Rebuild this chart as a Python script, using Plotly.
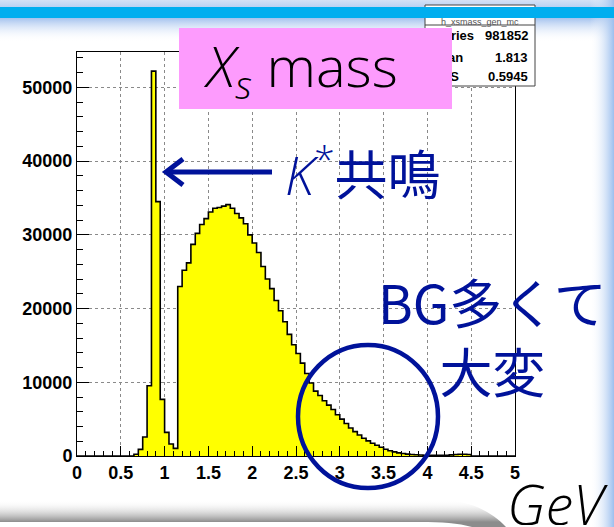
import base64
import plotly.graph_objects as go

# ---------------- data ----------------
BIN_LOW = 0.0
BIN_WIDTH = 0.05
COUNTS = [
    0, 0, 0, 0, 0, 0, 0, 0, 0, 0,            # 0.00 - 0.45
    0, 0, 0, 230, 900, 2570, 9530, 52200, 34500, 7680,   # 0.50 - 0.95
    3200, 1630, 1040, 23000, 25200, 26200, 28700, 30200, 31400, 32200,  # 1.00 - 1.45
    33100, 33600, 33700, 33900, 34100, 33600, 32900, 32300, 31500, 30000,  # 1.50 - 1.95
    28900, 27600, 25700, 24000, 22700, 21100, 19700, 18200, 16500, 15100,  # 2.00 - 2.45
    13900, 12600, 11200, 9900, 8800, 8200, 7500, 6900, 6300, 5600,   # 2.50 - 2.95
    5000, 4400, 3800, 3300, 2850, 2400, 2050, 1720, 1450, 1180,      # 3.00 - 3.45
    920, 720, 560, 420, 330, 250, 200, 160, 130, 110,                # 3.50 - 3.95
    90, 80, 80, 90, 110, 150, 200, 230, 230, 200,                    # 4.00 - 4.45
    0, 0, 0, 0, 0, 0, 0, 0, 0, 0,                                    # 4.50 - 4.95
]
STAT_NAMES = ["Entries", "Mean", "RMS"]
STAT_VALUES = ["981852", "1.813", "0.5945"]
HIST_NAME = "h_xsmass_gen_mc"
X_RANGE = [0, 5]
Y_RANGE = [0, 54800]

# ---------------- layout helpers (pixel -> paper) ----------------
W, H = 614, 527
L, R, T, B = 77, 99, 52, 71
PW, PH = W - L - R, H - T - B


def px(x):
    return (x - L) / PW


def py(y):
    return (H - B - y) / PH


NAVY = "#00129a"
LIGHT_FONT = dict(family="Open Sans", color="black", weight=300)

edges = [BIN_LOW + i * BIN_WIDTH for i in range(len(COUNTS) + 1)]
xs = edges
ys = COUNTS + [COUNTS[-1]]

fig = go.Figure()
fig.add_trace(go.Scatter(
    x=xs, y=ys, mode="lines", line=dict(shape="hv", color="black", width=1.6),
    fill="tozeroy", fillcolor="#ffff00", hoverinfo="skip", showlegend=False,
))

axis_common = dict(
    showline=True, linecolor="black", linewidth=1, mirror=True,
    ticks="inside", tickcolor="black",
    showgrid=True, gridcolor="#8a8a8a", griddash="dot", gridwidth=1,
    zeroline=False,
    tickfont=dict(family="Liberation Sans", size=18, color="black", weight="bold"),
)

fig.update_xaxes(range=X_RANGE, dtick=0.5, tick0=0, ticklen=10,
                 minor=dict(dtick=0.1, ticklen=5, ticks="inside", tickcolor="black", showgrid=False),
                 **axis_common)
fig.update_yaxes(range=Y_RANGE, dtick=10000, tick0=0, ticklen=12, tickformat="d",
                 minor=dict(dtick=2000, ticklen=6, ticks="inside", tickcolor="black", showgrid=False),
                 **axis_common)

# background decoration (slide) as svg image below the plot
svg = f'''<svg xmlns="http://www.w3.org/2000/svg" width="{W}" height="{H}" viewBox="0 0 {W} {H}" preserveAspectRatio="none">
<defs>
<linearGradient id="t0" x1="0" y1="0" x2="0" y2="1"><stop offset="0" stop-color="#d4e2f6"/><stop offset="1" stop-color="#b6cff2"/></linearGradient>
<linearGradient id="tg" x1="0" y1="0" x2="0" y2="1"><stop offset="0" stop-color="#a4c2ee"/><stop offset="1" stop-color="#ffffff" stop-opacity="0"/></linearGradient>
<linearGradient id="rg" x1="0" y1="0" x2="1" y2="0"><stop offset="0" stop-color="#ffffff" stop-opacity="0"/><stop offset="1" stop-color="#9cbfee"/></linearGradient>
<linearGradient id="bg" gradientUnits="userSpaceOnUse" x1="0" y1="500" x2="0" y2="522"><stop offset="0" stop-color="#ffffff" stop-opacity="0"/><stop offset="1" stop-color="#8c8c8c"/></linearGradient>
</defs>
<rect x="0" y="0" width="{W}" height="8" fill="url(#t0)"/>
<rect x="0" y="18" width="{W}" height="24" fill="url(#tg)"/>
<rect x="590" y="0" width="24" height="{H}" fill="url(#rg)"/>
<path d="M0,500 H440 C470,500 492,512 506,527 H472 C458,523 442,522 420,522 H0 Z" fill="url(#bg)"/>
</svg>'''
src = "data:image/svg+xml;base64," + base64.b64encode(svg.encode()).decode()
fig.add_layout_image(dict(source=src, xref="paper", yref="paper", x=px(0), y=py(0),
                          sizex=W / PW, sizey=H / PH, xanchor="left", yanchor="top",
                          sizing="stretch", layer="below"))

shapes = []
# stats box
shapes.append(dict(type="rect", xref="paper", yref="paper", x0=px(425), x1=px(535), y0=py(86), y1=py(5),
                   fillcolor="white", line=dict(color="#444", width=1), layer="above"))
shapes.append(dict(type="line", xref="paper", yref="paper", x0=px(425), x1=px(535), y0=py(25), y1=py(25),
                   line=dict(color="#444", width=1), layer="above"))
# blue band across the top of the slide
shapes.append(dict(type="rect", xref="paper", yref="paper", x0=px(0), x1=px(W), y0=py(18), y1=py(7),
                   fillcolor="#00aeef", line=dict(width=0), layer="above"))
# arrow
shapes.append(dict(type="path", xref="paper", yref="paper",
                   path=f"M{px(272)},{py(172)} L{px(168)},{py(172)}",
                   line=dict(color=NAVY, width=5), layer="above"))
shapes.append(dict(type="path", xref="paper", yref="paper",
                   path=f"M{px(183)},{py(159)} L{px(166)},{py(172)} L{px(183)},{py(185)}",
                   line=dict(color=NAVY, width=5), layer="above"))
# circle
shapes.append(dict(type="circle", xref="paper", yref="paper", x0=px(298), x1=px(438), y0=py(488), y1=py(345),
                   line=dict(color=NAVY, width=4.5), layer="above"))
fig.update_layout(shapes=shapes)

ann = []
# stats title (peeking out below the band)
ann.append(dict(xref="paper", yref="paper", x=px(480), y=py(22), text=HIST_NAME, showarrow=False,
                font=dict(family="Liberation Sans", size=9, color="#555"), xanchor="center", yanchor="middle"))
# stats rows
row_y = [36, 57, 76]
for name, val, yy in zip(STAT_NAMES, STAT_VALUES, row_y):
    ann.append(dict(xref="paper", yref="paper", x=px(428), y=py(yy), text=name, showarrow=False,
                    font=dict(family="Liberation Sans", size=13, color="black", weight="bold"),
                    xanchor="left", yanchor="middle"))
    ann.append(dict(xref="paper", yref="paper", x=px(530), y=py(yy), text=val, showarrow=False,
                    font=dict(family="Liberation Sans", size=13, color="black", weight="bold"),
                    xanchor="right", yanchor="middle"))
# pink title box with the title
ann.append(dict(xref="paper", yref="paper", x=px(179), y=py(28),
                text="\u2002<i>X</i><sub><i>s</i></sub> mass", showarrow=False,
                width=273, height=81, bgcolor="#fd9bfd", borderpad=0, borderwidth=0,
                align="left", valign="middle", xanchor="left", yanchor="top",
                font=dict(size=56, **LIGHT_FONT)))
# K* resonance
ann.append(dict(xref="paper", yref="paper", x=px(283), y=py(172),
                text='<span style="font-family:Open Sans;font-weight:300"><i>K</i><sup>*</sup></span>共鳴',
                showarrow=False, font=dict(family="Noto Sans CJK JP", size=53, color=NAVY),
                xanchor="left", yanchor="middle"))
ann.append(dict(xref="paper", yref="paper", x=px(492), y=py(335), text="BG多くて<br>大変",
                showarrow=False, align="center",
                font=dict(family="Noto Sans CJK JP", size=53, color=NAVY),
                xanchor="center", yanchor="middle"))
ann.append(dict(xref="paper", yref="paper", x=px(609), y=py(503), text="<i>GeV</i>",
                showarrow=False, height=44, valign="middle", borderpad=0,
                font=dict(size=56, **LIGHT_FONT),
                xanchor="right", yanchor="middle"))
fig.update_layout(annotations=ann)

fig.update_layout(
    width=W, height=H, margin=dict(l=L, r=R, t=T, b=B, pad=0),
    paper_bgcolor="white", plot_bgcolor="white", showlegend=False,
)
fig.write_html("out.html")
